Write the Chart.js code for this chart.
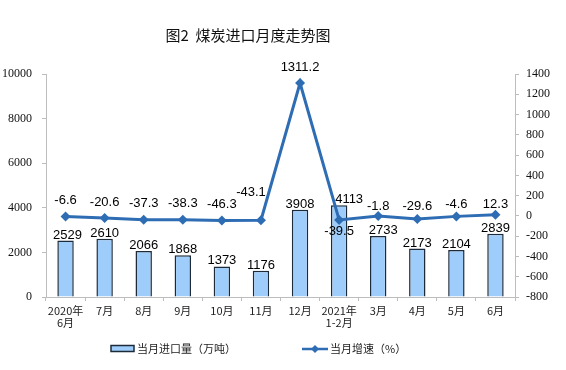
<!DOCTYPE html>
<html>
<head>
<meta charset="utf-8">
<script src="https://cdn.jsdelivr.net/npm/chart.js@4.4.0/dist/chart.umd.min.js"></script>
<style>
  html, body { margin: 0; padding: 0; background: #fff; }
  #wrap { width: 566px; height: 370px; }
</style>
</head>
<body>
<div id="wrap"><canvas id="c" width="566" height="370"></canvas></div>
<script>
const months = [['2020年', '6月'], '7月', '8月', '9月', '10月', '11月', '12月', ['2021年', '1-2月'], '3月', '4月', '5月', '6月'];
const imports = [2529, 2610, 2066, 1868, 1373, 1176, 3908, 4113, 2733, 2173, 2104, 2839];
const growth = [-6.6, -20.6, -37.3, -38.3, -46.3, -43.1, 1311.2, -39.5, -1.8, -29.6, -4.6, 12.3];
const leftTicks = [0, 2000, 4000, 6000, 8000, 10000];
const rightTicks = [-800, -600, -400, -200, 0, 200, 400, 600, 800, 1000, 1200, 1400];

const titleText = '图2  煤炭进口月度走势图';
const barLegend = '当月进口量（万吨）';
const lineLegend = '当月增速（%）';

const BAR_FILL = '#9fcdfb';
const BAR_EDGE = '#1d2a38';
const LINE = '#2e6db4';
const AXIS = '#bdbdbd';
const CJK = '"Noto Sans CJK SC", "Noto Sans", sans-serif';
const SERIF = '"Liberation Serif", "DejaVu Serif", serif';

// label nudges (label centre above the point, and sideways shift)
const lineLift = [16, 16, 16, 16, 16, 28, 16, -12, 10, 12, 12, 10];
const lineShift = [0, 0, 0, 0, 0, -10, 0, 0, 0, 0, 0, 0];
const barShift = [2, 0, 0, 0, 0, 0, 0, 10, 5, 0, 0, 0];

const labelsPlugin = {
  id: 'labels',
  afterDatasetsDraw(chart) {
    const ctx = chart.ctx;
    ctx.save();
    ctx.fillStyle = '#000';
    ctx.font = '13px "Liberation Sans", Arial, sans-serif';
    ctx.textAlign = 'center';
    ctx.textBaseline = 'alphabetic';
    chart.getDatasetMeta(0).data.forEach((el, i) => {
      ctx.fillText(String(imports[i]), el.x + barShift[i], el.y - 2);
    });
    ctx.textBaseline = 'middle';
    chart.getDatasetMeta(1).data.forEach((el, i) => {
      ctx.fillText(String(growth[i]), el.x + lineShift[i], el.y - lineLift[i]);
    });
    ctx.restore();
  },
  afterDraw(chart) {
    const ctx = chart.ctx;
    ctx.save();
    // title
    ctx.fillStyle = '#111';
    ctx.font = '15px ' + CJK;
    ctx.textAlign = 'center';
    ctx.textBaseline = 'middle';
    ctx.fillText(titleText, 248, 35);
    // legend
    ctx.fillStyle = BAR_FILL;
    ctx.fillRect(111, 345.5, 23, 6);
    ctx.strokeStyle = BAR_EDGE;
    ctx.lineWidth = 1.5;
    ctx.strokeRect(111, 345.5, 23, 6);
    ctx.strokeStyle = LINE;
    ctx.lineWidth = 2.5;
    ctx.beginPath();
    ctx.moveTo(302, 349);
    ctx.lineTo(328, 349);
    ctx.stroke();
    ctx.fillStyle = LINE;
    ctx.beginPath();
    ctx.moveTo(315, 345);
    ctx.lineTo(319, 349);
    ctx.lineTo(315, 353);
    ctx.lineTo(311, 349);
    ctx.closePath();
    ctx.fill();
    ctx.fillStyle = '#222';
    ctx.font = '11px ' + CJK;
    ctx.textAlign = 'left';
    ctx.fillText(barLegend, 137, 349);
    ctx.fillText(lineLegend, 330, 349);
    ctx.restore();
  }
};

new Chart(document.getElementById('c'), {
  type: 'bar',
  data: {
    labels: months,
    datasets: [
      {
        type: 'bar',
        label: barLegend,
        data: imports,
        yAxisID: 'y',
        backgroundColor: BAR_FILL,
        borderColor: BAR_EDGE,
        borderWidth: 1.5,
        barPercentage: 0.42,
        categoryPercentage: 1,
        order: 2
      },
      {
        type: 'line',
        label: lineLegend,
        data: growth,
        yAxisID: 'y1',
        borderColor: LINE,
        backgroundColor: LINE,
        borderWidth: 3,
        pointStyle: 'rectRot',
        pointRadius: 5,
        pointBorderWidth: 0,
        tension: 0,
        order: 1
      }
    ]
  },
  options: {
    responsive: false,
    animation: false,
    layout: { padding: { top: 74, bottom: 33, left: 0, right: 0 } },
    plugins: {
      legend: { display: false },
      title: { display: false },
      tooltip: { enabled: false }
    },
    scales: {
      x: {
        offset: true,
        afterFit(s) { s.height = 40; },
        grid: { offset: true, drawOnChartArea: false, color: AXIS, tickLength: 4 },
        border: { color: AXIS, width: 1 },
        ticks: {
          color: '#222',
          padding: 3,
          maxRotation: 0,
          autoSkip: false,
          font: { family: CJK, size: 11, lineHeight: 1.15 }
        }
      },
      y: {
        position: 'left',
        min: 0,
        max: 10000,
        afterFit(s) { s.width = 46; },
        afterBuildTicks(s) { s.ticks = leftTicks.map(v => ({ value: v })); },
        grid: { drawOnChartArea: false, color: AXIS, tickLength: 4 },
        border: { color: AXIS, width: 1 },
        ticks: {
          color: '#111',
          padding: 10,
          callback: v => String(v),
          font: { family: SERIF, size: 12 }
        }
      },
      y1: {
        position: 'right',
        min: -800,
        max: 1400,
        afterFit(s) { s.width = 51; },
        afterBuildTicks(s) { s.ticks = rightTicks.map(v => ({ value: v })); },
        grid: { drawOnChartArea: false, color: AXIS, tickLength: 4 },
        border: { color: AXIS, width: 1 },
        ticks: {
          color: '#111',
          padding: 7,
          callback: v => String(v),
          font: { family: SERIF, size: 12 }
        }
      }
    }
  },
  plugins: [labelsPlugin]
});
</script>
</body>
</html>
